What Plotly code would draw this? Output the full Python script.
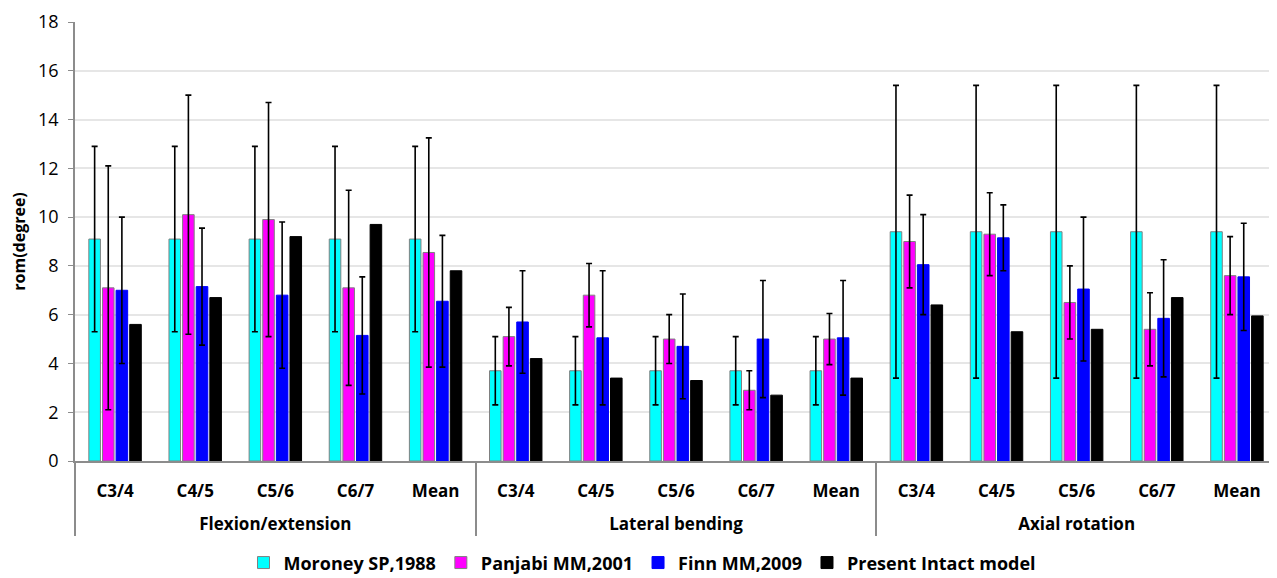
import plotly.graph_objects as go

group_names = ["Flexion/extension", "Lateral bending", "Axial rotation"]
level_names = ["C3/4", "C4/5", "C5/6", "C6/7", "Mean"]

series_names = ["Moroney SP,1988", "Panjabi MM,2001", "Finn MM,2009", "Present Intact model"]

moroney = [9.1, 9.1, 9.1, 9.1, 9.1, 3.7, 3.7, 3.7, 3.7, 3.7, 9.4, 9.4, 9.4, 9.4, 9.4]
moroney_err = [3.8, 3.8, 3.8, 3.8, 3.8, 1.4, 1.4, 1.4, 1.4, 1.4, 6.0, 6.0, 6.0, 6.0, 6.0]

panjabi = [7.1, 10.1, 9.9, 7.1, 8.55, 5.1, 6.8, 5.0, 2.9, 5.0, 9.0, 9.3, 6.5, 5.4, 7.6]
panjabi_err = [5.0, 4.9, 4.8, 4.0, 4.7, 1.2, 1.3, 1.0, 0.8, 1.05, 1.9, 1.7, 1.5, 1.5, 1.6]

finn = [7.0, 7.15, 6.8, 5.15, 6.55, 5.7, 5.05, 4.7, 5.0, 5.05, 8.05, 9.15, 7.05, 5.85, 7.55]
finn_err = [3.0, 2.4, 3.0, 2.4, 2.7, 2.1, 2.75, 2.15, 2.4, 2.35, 2.05, 1.35, 2.95, 2.4, 2.2]

present = [5.6, 6.7, 9.2, 9.7, 7.8, 4.2, 3.4, 3.3, 2.7, 3.4, 6.4, 5.3, 5.4, 6.7, 5.95]

colors = ["#00FFFF", "#FF00FF", "#0000FF", "#000000"]
outline = ["#808080", "#808080", "#0000FF", "#000000"]

# multicategory coordinates (group labels dropped one line lower via a leading break)
groups = [("<br>" + g) for g in group_names for _ in level_names]
levels = [lv for _ in group_names for lv in level_names]

values = [moroney, panjabi, finn, present]
errors = [moroney_err, panjabi_err, finn_err, None]

FONT = "Open Sans"

fig = go.Figure()
for name, vals, err, col, oc in zip(series_names, values, errors, colors, outline):
    kw = {}
    if err is not None:
        kw["error_y"] = dict(type="data", array=err, visible=True,
                             color="#000000", thickness=1.6, width=3)
    fig.add_trace(go.Bar(
        x=[groups, levels], y=vals, name=name,
        marker=dict(color=col, line=dict(color=oc, width=1)),
        **kw
    ))

# page body has an 8px margin: compensate so the plot sits where the reference has it
fig.update_layout(
    width=1269, height=570,
    barmode="group", bargap=0.32, bargroupgap=0.15,
    plot_bgcolor="white", paper_bgcolor="white",
    margin=dict(l=67, r=0, t=14, b=117, autoexpand=False),
    font=dict(family=FONT, color="#000000"),
    showlegend=True,
    legend=dict(orientation="h", xref="container", yref="paper",
                x=0.5, xanchor="center", y=-0.232, yanchor="middle",
                font=dict(family=FONT, size=18, color="#000000", weight="bold"),
                itemwidth=30, tracegroupgap=0),
)

fig.update_yaxes(
    range=[0, 18], dtick=2, tick0=0, automargin=False,
    showgrid=True, gridcolor="#e6e6e6", gridwidth=1.5,
    showline=True, linecolor="#8c8c8c", linewidth=1.5,
    ticks="outside", ticklen=5, tickcolor="#8c8c8c",
    ticklabelstandoff=6,
    tickfont=dict(family=FONT, size=18, color="#000000"),
    title=dict(text="rom(degree)", font=dict(family=FONT, size=16, color="#000000", weight="bold"),
               standoff=10),
    zeroline=False,
)

fig.update_xaxes(
    type="multicategory", automargin=False,
    showline=True, linecolor="#8c8c8c", linewidth=1.5,
    showdividers=True, dividercolor="#8c8c8c", dividerwidth=1.5,
    ticks="", ticklabelstandoff=14,
    tickfont=dict(family=FONT, size=17, color="#000000", weight="bold"),
    showgrid=False,
)

fig.write_html("out.html")
